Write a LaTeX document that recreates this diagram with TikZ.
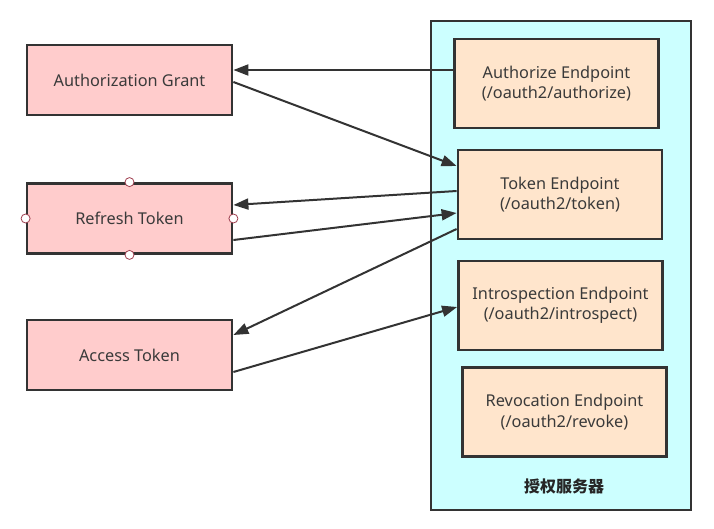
\documentclass[tikz,border=0pt]{standalone}
\usepackage{fontspec}
\setmainfont{Noto Sans}
\newfontfamily\cjk{Noto Sans CJK SC}
\usetikzlibrary{arrows.meta}
\definecolor{edge}{HTML}{333333}
\definecolor{pinkfill}{HTML}{FFCCCC}
\definecolor{peachfill}{HTML}{FFE5CC}
\definecolor{cyanfill}{HTML}{CCFFFF}
\definecolor{handle}{HTML}{A04050}
\definecolor{txt}{HTML}{3A3A3A}
\tikzset{
  leftbox/.style={draw=edge, line width=2.8pt, fill=pinkfill, minimum width=205pt, minimum height=70pt, inner sep=0pt, text=txt, font=\fontsize{16.3}{18}\selectfont},
  epbox/.style={draw=edge, line width=2.8pt, fill=peachfill, minimum width=204pt, minimum height=89pt, inner sep=0pt, text=txt, align=center, font=\fontsize{16.3}{20.5}\selectfont},
  conn/.style={draw=edge, line width=2pt, -{Triangle[length=15pt,width=11pt]}},
  hnd/.style={circle, draw=handle, fill=white, line width=0.8pt, minimum size=9pt, inner sep=0pt}
}
\begin{document}
\begin{tikzpicture}[x=1pt,y=-1pt]
\useasboundingbox (0,0) rectangle (714,529);
\node[draw=edge, line width=2.8pt, fill=cyanfill, minimum width=260pt, minimum height=489pt, inner sep=0pt] (server) at (561,265.5) {};
\node[font=\cjk\bfseries\fontsize{16}{18}\selectfont, text=black!85] (srvlabel) at (564,486) {授权服务器};
\node[leftbox] (grant) at (129.5,80) {Authorization Grant};
\node[leftbox] (refresh) at (129.5,218.5) {Refresh Token};
\node[leftbox] (access) at (129.5,355) {Access Token};
\node[epbox] (authz) at (556.5,83.5) {Authorize Endpoint\\(/oauth2/authorize)};
\node[epbox] (token) at (560,194.5) {Token Endpoint\\(/oauth2/token)};
\node[epbox] (intro) at (560.5,305.5) {Introspection Endpoint\\(/oauth2/introspect)};
\node[epbox] (revoke) at (564.5,412) {Revocation Endpoint\\(/oauth2/revoke)};
\node[hnd] (h1) at (refresh.north) {};
\node[hnd] (h2) at (refresh.south) {};
\node[hnd] (h3) at (refresh.west) {};
\node[hnd] (h4) at (refresh.east) {};
\draw[conn] ([yshift=13.5pt]authz.west) -- ([yshift=10pt]grant.east);
\draw[conn] ([yshift=-2pt]grant.east) -- ([yshift=28.5pt]token.west);
\draw[conn] ([yshift=3.5pt]token.west) -- ([yshift=13.5pt]refresh.east);
\draw[conn] ([yshift=-21.5pt]refresh.east) -- ([yshift=-18.5pt]token.west);
\draw[conn] ([yshift=-34.5pt]token.west) -- ([yshift=20pt]access.east);
\draw[conn] ([yshift=-17pt]access.east) -- ([yshift=-1.5pt]intro.west);
\end{tikzpicture}
\end{document}
